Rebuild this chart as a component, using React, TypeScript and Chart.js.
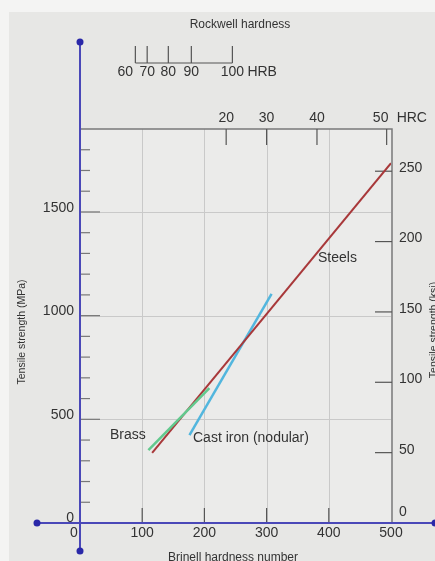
import { useEffect, useRef } from 'react';
import { Chart, registerables } from 'chart.js';

Chart.register(...registerables);

// ---- data ----
const brinellTicks = [0, 100, 200, 300, 400, 500];
const brinellGrid = [100, 200, 300, 400];
const mpaMajorTicks = [500, 1000, 1500];
const mpaLabels = [0, 500, 1000, 1500];
const mpaMinorTicks = [100, 200, 300, 400, 600, 700, 800, 900, 1100, 1200, 1300, 1400, 1600, 1700, 1800];
const ksiTicks = [0, 50, 100, 150, 200, 250];
const hrcLabels = [20, 30, 40, 50];
const hrcBrinell = [235, 300, 381, 493];
const hrbLabels = [60, 70, 80, 90, 100];
const hrbBrinell = [89, 108, 142, 179, 245];

const steelBrinell = [116, 500];
const steelMPa = [338, 1735];
const brassBrinell = [110, 208];
const brassMPa = [352, 650];
const castIronBrinell = [176, 308];
const castIronMPa = [424, 1105];

const toPts = (xs: number[], ys: number[]) => xs.map((x, i) => ({ x, y: ys[i] }));

const FONT = '"Liberation Sans", Arial, sans-serif';

const decor = {
  id: 'decor',
  beforeDraw(chart: any) {
    const { ctx, width, height } = chart;
    ctx.save();
    ctx.fillStyle = '#f4f4f3';
    ctx.fillRect(0, 0, width, height);
    ctx.fillStyle = '#e7e7e5';
    ctx.fillRect(9, 12, width - 9, height - 12);
    ctx.restore();
  },
  beforeDatasetsDraw(chart: any) {
    const { ctx, chartArea } = chart;
    const xs = chart.scales.x, ys = chart.scales.y, y2 = chart.scales.y2;
    const X = (v: number) => xs.getPixelForValue(v);
    const Y = (v: number) => ys.getPixelForValue(v);
    const Y2 = (v: number) => y2.getPixelForValue(v);
    ctx.save();
    ctx.fillStyle = '#ebebea';
    ctx.fillRect(chartArea.left, chartArea.top, chartArea.right - chartArea.left, chartArea.bottom - chartArea.top);
    ctx.strokeStyle = '#c9c9c9';
    ctx.lineWidth = 1;
    brinellGrid.forEach((v) => {
      ctx.beginPath();
      ctx.moveTo(Math.round(X(v)) + 0.5, chartArea.top);
      ctx.lineTo(Math.round(X(v)) + 0.5, chartArea.bottom);
      ctx.stroke();
    });
    mpaMajorTicks.forEach((v) => {
      ctx.beginPath();
      ctx.moveTo(chartArea.left, Math.round(Y(v)) + 0.5);
      ctx.lineTo(chartArea.right, Math.round(Y(v)) + 0.5);
      ctx.stroke();
    });
    ctx.strokeStyle = '#7a7a7a';
    ctx.lineWidth = 1.5;
    ctx.beginPath();
    ctx.moveTo(chartArea.left, chartArea.top);
    ctx.lineTo(chartArea.right + 1, chartArea.top);
    ctx.lineTo(chartArea.right + 1, chartArea.bottom);
    ctx.stroke();
    ctx.strokeStyle = '#777';
    ctx.lineWidth = 1.2;
    mpaMinorTicks.forEach((v) => {
      ctx.beginPath();
      ctx.moveTo(chartArea.left, Y(v));
      ctx.lineTo(chartArea.left + 10, Y(v));
      ctx.stroke();
    });
    mpaMajorTicks.forEach((v) => {
      ctx.beginPath();
      ctx.moveTo(chartArea.left, Y(v));
      ctx.lineTo(chartArea.left + 20, Y(v));
      ctx.stroke();
    });
    ctx.strokeStyle = '#555';
    brinellGrid.forEach((v) => {
      ctx.beginPath();
      ctx.moveTo(X(v), chartArea.bottom);
      ctx.lineTo(X(v), chartArea.bottom - 15);
      ctx.stroke();
    });
    ksiTicks.filter((v) => v > 0).forEach((v) => {
      ctx.beginPath();
      ctx.moveTo(chartArea.right + 1, Y2(v));
      ctx.lineTo(chartArea.right - 16, Y2(v));
      ctx.stroke();
    });
    hrcBrinell.forEach((b) => {
      ctx.beginPath();
      ctx.moveTo(X(b), chartArea.top);
      ctx.lineTo(X(b), chartArea.top + 16);
      ctx.stroke();
    });
    ctx.restore();
  },
  afterDatasetsDraw(chart: any) {
    const { ctx, chartArea, width } = chart;
    const xs = chart.scales.x, ys = chart.scales.y, y2 = chart.scales.y2;
    const X = (v: number) => xs.getPixelForValue(v);
    const Y = (v: number) => ys.getPixelForValue(v);
    const Y2 = (v: number) => y2.getPixelForValue(v);
    ctx.save();
    const L = chartArea.left, B = chartArea.bottom;
    ctx.strokeStyle = '#4a48b8';
    ctx.lineWidth = 2;
    ctx.beginPath();
    ctx.moveTo(L, 42);
    ctx.lineTo(L, 551);
    ctx.moveTo(37, B);
    ctx.lineTo(width, B);
    ctx.stroke();
    ctx.fillStyle = '#2a28a8';
    [[L, 42], [37, B], [L, 551], [width, B]].forEach(([x, y]) => {
      ctx.beginPath();
      ctx.arc(x, y, 3.5, 0, Math.PI * 2);
      ctx.fill();
    });

    ctx.fillStyle = '#333';
    ctx.font = `14px ${FONT}`;
    ctx.textAlign = 'right';
    ctx.textBaseline = 'middle';
    mpaLabels.forEach((v) => {
      ctx.fillText(String(v), L - 6, v === 0 ? Y(v) - 5 : Y(v) - 4);
    });
    ctx.textAlign = 'center';
    brinellTicks.forEach((v) => {
      ctx.fillText(String(v), v === 0 ? X(v) - 6 : X(v), B + 10);
    });
    ctx.textAlign = 'left';
    ksiTicks.forEach((v) => {
      ctx.fillText(String(v), chartArea.right + 8, v === 0 ? Y2(v) - 11 : Y2(v) - 3);
    });
    ctx.textAlign = 'center';
    hrcLabels.forEach((h, i) => {
      const off = i === hrcLabels.length - 1 ? -6 : 0;
      ctx.fillText(String(h), X(hrcBrinell[i]) + off, chartArea.top - 11);
    });
    ctx.textAlign = 'left';
    ctx.fillText('HRC', X(hrcBrinell[hrcBrinell.length - 1]) + 10, chartArea.top - 11);

    const hrbY = 63;
    ctx.strokeStyle = '#555';
    ctx.lineWidth = 1.2;
    ctx.beginPath();
    ctx.moveTo(X(hrbBrinell[0]), hrbY);
    ctx.lineTo(X(hrbBrinell[hrbBrinell.length - 1]), hrbY);
    ctx.stroke();
    hrbBrinell.forEach((b) => {
      ctx.beginPath();
      ctx.moveTo(X(b), hrbY);
      ctx.lineTo(X(b), hrbY - 17);
      ctx.stroke();
    });
    ctx.textAlign = 'center';
    hrbLabels.forEach((h, i) => {
      const off = i === 0 ? -10 : 0;
      ctx.fillText(String(h), X(hrbBrinell[i]) + off, 72);
    });
    ctx.textAlign = 'left';
    ctx.fillText('HRB', X(hrbBrinell[hrbBrinell.length - 1]) + 15, 72);

    ctx.font = `12px ${FONT}`;
    ctx.textAlign = 'center';
    ctx.fillText('Rockwell hardness', 240, 25);
    ctx.textBaseline = 'top';
    ctx.fillText('Brinell hardness number', 233, 552);
    ctx.textBaseline = 'middle';
    ctx.font = `10.5px ${FONT}`;
    ctx.save();
    ctx.translate(22, 332);
    ctx.rotate(-Math.PI / 2);
    ctx.fillText('Tensile strength (MPa)', 0, 0);
    ctx.restore();
    ctx.save();
    ctx.translate(434, 330);
    ctx.rotate(-Math.PI / 2);
    ctx.fillText('Tensile strength (ksi)', 0, 0);
    ctx.restore();

    ctx.font = `14px ${FONT}`;
    ctx.textAlign = 'left';
    ctx.fillText('Steels', 318, 258);
    ctx.fillText('Brass', 110, 435);
    ctx.fillText('Cast iron (nodular)', 193, 438);
    ctx.restore();
  },
};

export default function App() {
  const ref = useRef<HTMLCanvasElement>(null);
  useEffect(() => {
    if (!ref.current) return;
    const chart = new Chart(ref.current, {
      type: 'scatter',
      data: {
        datasets: [
          { label: 'Steels', data: toPts(steelBrinell, steelMPa), showLine: true, borderColor: '#a8383a', borderWidth: 2, pointRadius: 0, order: 1 },
          { label: 'Brass', data: toPts(brassBrinell, brassMPa), showLine: true, borderColor: '#62c98e', borderWidth: 2.5, pointRadius: 0, order: 0 },
          { label: 'Cast iron (nodular)', data: toPts(castIronBrinell, castIronMPa), showLine: true, borderColor: '#52b6de', borderWidth: 2.5, pointRadius: 0, order: 2 },
        ],
      },
      options: {
        animation: false,
        responsive: false,
        events: [],
        layout: { padding: { left: 80, right: 44, top: 129, bottom: 38 } },
        plugins: { legend: { display: false }, tooltip: { enabled: false } },
        scales: {
          x: { type: 'linear', min: 0, max: 500, display: false },
          y: { type: 'linear', min: 0, max: 1900, display: false },
          y2: { type: 'linear', min: 0, max: 280, display: false, position: 'right' },
        },
      },
      plugins: [decor],
    });
    return () => chart.destroy();
  }, []);
  return (
    <div style={{ position: 'absolute', left: 0, top: 0, width: 435, height: 561 }}>
      <canvas ref={ref} width={435} height={561} style={{ display: 'block' }} />
    </div>
  );
}
